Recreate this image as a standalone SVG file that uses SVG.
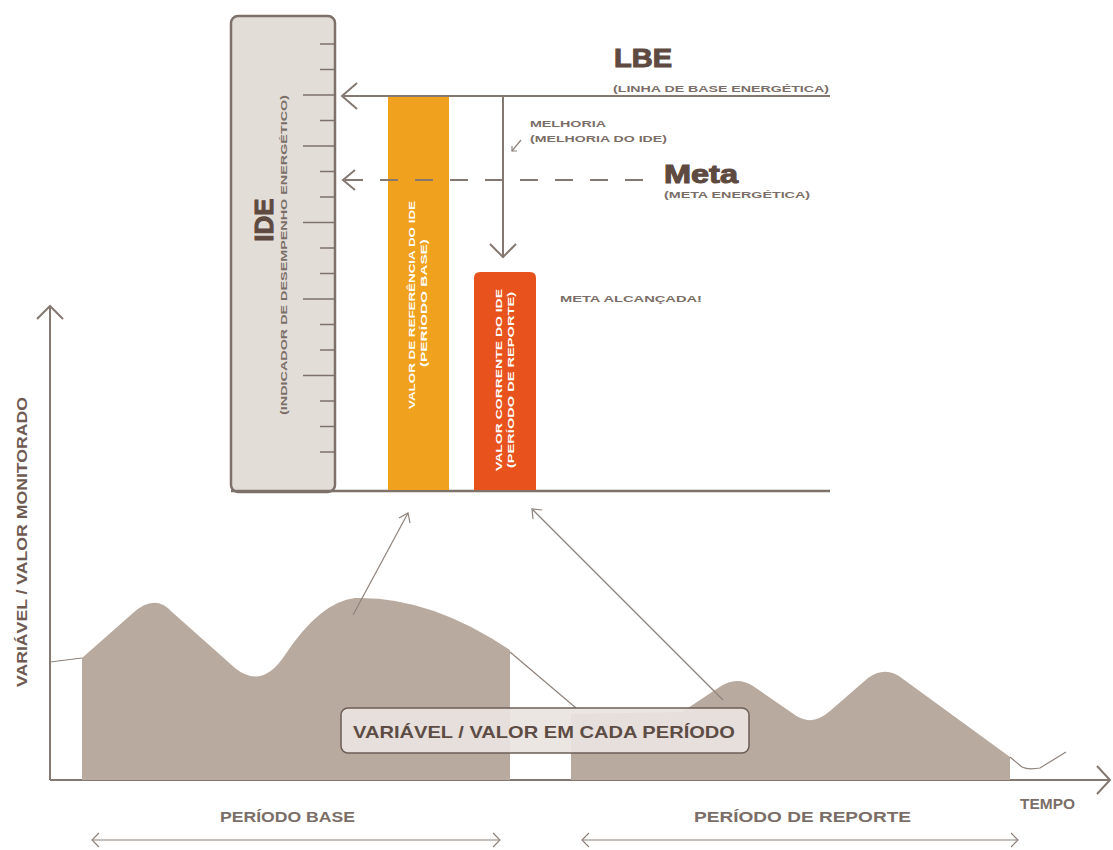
<svg xmlns="http://www.w3.org/2000/svg" width="1113" height="850" viewBox="0 0 1113 850">
<defs>
<style>
text{font-family:"Liberation Sans",Arial,sans-serif;font-weight:bold}
.ln{stroke:#857871;fill:none;stroke-width:2}
.thin{stroke:#8e827b;fill:none;stroke-width:1.2}
.tk{stroke:#7d716a;stroke-width:1.5}
.br{fill:#5e4a40;stroke:#5e4a40;stroke-width:1;paint-order:stroke}
.gy{fill:#7b6e68}
.sm{font-size:9.5px;fill:#7b6e68}
.wt{fill:#ffffff;font-size:9.5px}
.mtn{fill:#b9aa9f}
</style>
</defs>
<rect width="1113" height="850" fill="#ffffff"/>

<g id="ide-axis">
<rect x="231" y="16" width="104" height="476" rx="7" fill="#e3ddd7" stroke="#7d716a" stroke-width="2.5"/>
<g class="tk">
<line x1="320" y1="44" x2="335" y2="44"/>
<line x1="320" y1="69.5" x2="335" y2="69.5"/>
<line x1="303" y1="95" x2="335" y2="95"/>
<line x1="320" y1="120.5" x2="335" y2="120.5"/>
<line x1="303" y1="146" x2="335" y2="146"/>
<line x1="320" y1="171.5" x2="335" y2="171.5"/>
<line x1="320" y1="197" x2="335" y2="197"/>
<line x1="303" y1="222.5" x2="335" y2="222.5"/>
<line x1="320" y1="248" x2="335" y2="248"/>
<line x1="320" y1="273.5" x2="335" y2="273.5"/>
<line x1="303" y1="299" x2="335" y2="299"/>
<line x1="320" y1="324.5" x2="335" y2="324.5"/>
<line x1="320" y1="350" x2="335" y2="350"/>
<line x1="303" y1="375.5" x2="335" y2="375.5"/>
<line x1="320" y1="401" x2="335" y2="401"/>
<line x1="320" y1="426.5" x2="335" y2="426.5"/>
<line x1="320" y1="452" x2="335" y2="452"/>
</g>
<text transform="translate(273,220) rotate(-90)" text-anchor="middle" font-size="26" class="br">IDE</text>
<text transform="translate(287,255) rotate(-90)" text-anchor="middle" font-size="8.5" class="gy" textLength="320" lengthAdjust="spacingAndGlyphs">(INDICADOR DE DESEMPENHO ENERGÉTICO)</text>
</g>

<g id="ide-baseline">
<line x1="231" y1="491" x2="830" y2="491" stroke="#7d716a" stroke-width="2.5"/>
</g>

<g id="bar-reference">
<rect x="388" y="97" width="61" height="393" fill="#f0a11d"/>
<text transform="translate(415,305) rotate(-90)" text-anchor="middle" class="wt" textLength="208" lengthAdjust="spacingAndGlyphs">VALOR DE REFERÊNCIA DO IDE</text>
<text transform="translate(427,303) rotate(-90)" text-anchor="middle" class="wt" textLength="128" lengthAdjust="spacingAndGlyphs">(PERÍODO BASE)</text>
</g>

<g id="bar-current">
<path d="M474,490 V278 Q474,272 480,272 H530 Q536,272 536,278 V490 Z" fill="#e8531d"/>
<text transform="translate(502,380) rotate(-90)" text-anchor="middle" class="wt" textLength="182" lengthAdjust="spacingAndGlyphs">VALOR CORRENTE DO IDE</text>
<text transform="translate(514,380) rotate(-90)" text-anchor="middle" class="wt" textLength="176" lengthAdjust="spacingAndGlyphs">(PERÍODO DE REPORTE)</text>
</g>

<g id="lbe">
<text x="614" y="67" font-size="26" class="br" textLength="58" lengthAdjust="spacingAndGlyphs">LBE</text>
<text x="613" y="92" class="sm" textLength="216" lengthAdjust="spacingAndGlyphs">(LINHA DE BASE ENERGÉTICA)</text>
</g>

<g id="meta">
<text x="664" y="183" font-size="25" class="br" textLength="74" lengthAdjust="spacingAndGlyphs">Meta</text>
<text x="664" y="198" class="sm" textLength="146" lengthAdjust="spacingAndGlyphs">(META ENERGÉTICA)</text>
</g>

<g id="melhoria">
<text x="530" y="127" class="sm" textLength="76" lengthAdjust="spacingAndGlyphs">MELHORIA</text>
<text x="530" y="142" class="sm" textLength="137" lengthAdjust="spacingAndGlyphs">(MELHORIA DO IDE)</text>
</g>

<g id="meta-alcancada">
<text x="560" y="302" class="sm" textLength="142" lengthAdjust="spacingAndGlyphs">META ALCANÇADA!</text>
</g>

<g id="chart-axes">
<polyline class="ln" points="50,780 50,306"/>
<polyline class="ln" points="37,319 50,306 63,319"/>
<polyline class="ln" points="50,780 1109,780"/>
<polyline class="ln" points="1097,766 1110,780 1097,794"/>
<text transform="translate(27,542) rotate(-90)" text-anchor="middle" font-size="14" fill="#6f5a52" textLength="290" lengthAdjust="spacingAndGlyphs">VARIÁVEL / VALOR MONITORADO</text>
<text x="1020" y="809" font-size="14" class="gy" textLength="55" lengthAdjust="spacingAndGlyphs">TEMPO</text>
</g>

<g id="base-period-area">
<path class="mtn" d="M82,780 V658 L133,613 Q155,593 172,612 L235,668 Q262,690 285,655 Q320,602 355,598 Q430,596 510,650 V780 Z"/>
<polyline class="thin" points="50,662 82,658"/>
<polyline class="thin" points="510,652 576,708"/>
</g>

<g id="report-period-area">
<path class="mtn" d="M571,780 V714 L682,712 L718,688 Q736,675 753,686 L795,715 Q812,727 830,711 L868,678 Q886,665 903,679 L1010,757 V780 Z"/>
<path class="thin" d="M1010,757 L1022,767 Q1028,770 1040,768 L1066,752"/>
</g>

<g id="label-box">
<rect x="341" y="708" width="408" height="45" rx="7" fill="#e9e4df" fill-opacity="0.92" stroke="#6c5e57" stroke-width="1.5"/>
<text x="353" y="738" font-size="16.5" fill="#5d4c44" textLength="382" lengthAdjust="spacingAndGlyphs">VARIÁVEL / VALOR EM CADA PERÍODO</text>
</g>

<g id="period-labels">
<text x="220" y="822" font-size="15" class="gy" textLength="135" lengthAdjust="spacingAndGlyphs">PERÍODO BASE</text>
<text x="694" y="822" font-size="15" class="gy" textLength="217" lengthAdjust="spacingAndGlyphs">PERÍODO DE REPORTE</text>
</g>

<g id="connectors">
<line class="ln" x1="342" y1="96" x2="830" y2="96"/>
<polyline class="ln" points="357,83 342,96 357,109"/>
<line class="ln" x1="345" y1="180" x2="660" y2="180" stroke-dasharray="18,17"/>
<polyline class="ln" points="355,170 343,180 355,190"/>
<line class="ln" x1="503" y1="96" x2="503" y2="257"/>
<polyline class="ln" points="490,244 503,257 516,244"/>
<line class="thin" x1="521" y1="140" x2="512" y2="151"/>
<polyline class="thin" points="512,146 512,151 517,151"/>
<line class="thin" x1="353" y1="615" x2="408" y2="513"/>
<polyline class="thin" points="399,518 408,513 410,523"/>
<line class="thin" x1="723" y1="700" x2="532" y2="509"/>
<polyline class="thin" points="533,519 532,509 542,510"/>
<line class="thin" x1="92" y1="840" x2="500" y2="840"/>
<polyline class="thin" points="99,833 92,840 99,847"/>
<polyline class="thin" points="493,833 500,840 493,847"/>
<line class="thin" x1="582" y1="840" x2="1018" y2="840"/>
<polyline class="thin" points="589,833 582,840 589,847"/>
<polyline class="thin" points="1011,833 1018,840 1011,847"/>
</g>
</svg>
